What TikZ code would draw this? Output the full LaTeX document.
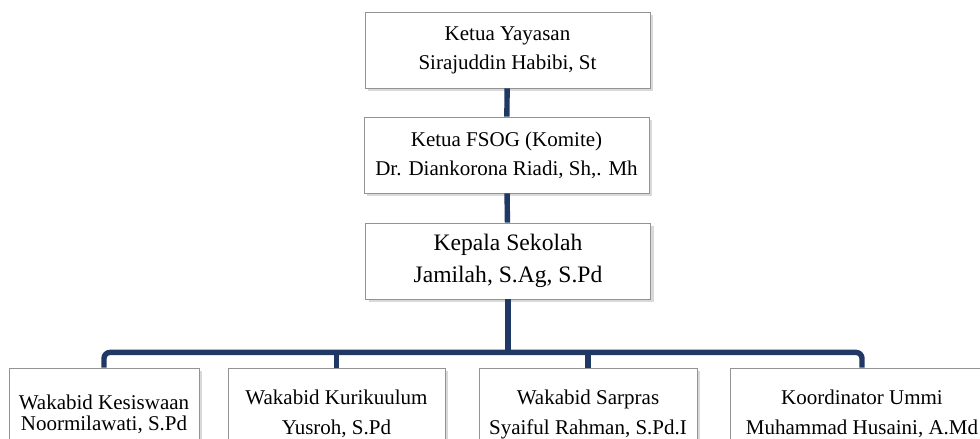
\documentclass[tikz,border=0pt]{standalone}
\usepackage{fontspec}
\setmainfont{Liberation Serif}
\usetikzlibrary{shadows, positioning}
\definecolor{linkblue}{RGB}{31,56,100}
\tikzset{
	box/.style={draw=gray!85, fill=white, inner sep=0pt, align=center, minimum height=38pt,
		drop shadow={opacity=0.3, shadow xshift=1.5pt, shadow yshift=-1.5pt}},
	topbox/.style={box, minimum width=142.5pt, font=\fontsize{10.5}{14.5}\selectfont},
	lowbox/.style={box, minimum height=46pt, font=\fontsize{10.5}{15}\selectfont},
	link/.style={draw=linkblue, line width=2.7pt},
}

\begin{document}
\begin{tikzpicture}[x=0.5pt, y=-0.5pt]
			\useasboundingbox (0,0) rectangle (980,439);
			\clip (0,0) rectangle (980,439);
			% Yayasan & Komite
			\node[topbox] (yay) at (507.5,50) {Ketua Yayasan\\Sirajuddin Habibi, St};
			\node[topbox] (fsog) at (506.5,155) {Ketua FSOG (Komite)\\Dr. Diankorona Riadi, Sh,. Mh};
			\draw[link] (yay) -- (fsog);
			% Kepala Sekolah
			\node[topbox, font=\fontsize{11.8}{16}\selectfont] (kepsek) at (508,261) {Kepala Sekolah\\Jamilah, S.Ag, S.Pd};
			\draw[link] (fsog) -- (kepsek);
			% Wakabid
			\node[lowbox, minimum width=95pt, font=\fontsize{10.5}{10.5}\selectfont] (kes) at (104,414) {Wakabid Kesiswaan\\Noormilawati, S.Pd};
			\node[lowbox, minimum width=108.5pt] (kur) at (336.5,414) {Wakabid Kurikuulum\\Yusroh, S.Pd};
			\node[lowbox, minimum width=109pt] (sar) at (588,414) {Wakabid Sarpras\\Syaiful Rahman, S.Pd.I};
			\node[lowbox, minimum width=132pt] (umm) at (862,414) {Koordinator Ummi\\Muhammad Husaini, A.Md};
			\path (kepsek.south) ++(0,53) coordinate (bus);
			\draw[link] (kepsek) -- (bus);
			\draw[link, rounded corners=3pt] (kes.north) |- (bus) -| (umm.north);
			\draw[link] (kur.north) -- (kur.north |- bus);
			\draw[link] (sar.north) -- (sar.north |- bus);
\end{tikzpicture}
\end{document}
